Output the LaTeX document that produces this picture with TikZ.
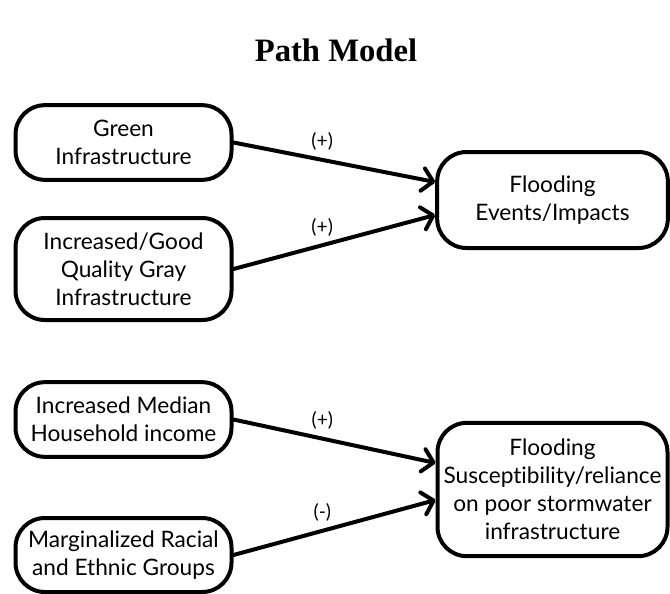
\documentclass[tikz,border=0pt]{standalone}
\usepackage{fontspec}
\setmainfont{Lato}[Ligatures=NoCommon]
\newfontfamily\titlefont{Liberation Serif}
\usetikzlibrary{arrows.meta}

\tikzset{
	box/.style={draw, line width=3pt, rounded corners=22pt, align=center, inner sep=2pt,
		minimum width=162pt, minimum height=#1, font=\fontsize{17}{21}\selectfont},
	link/.style={-{Straight Barb[length=8pt,width=17pt,line cap=round,line join=round]},
		line width=3pt, line cap=round},
	sign/.style={above=2pt, font=\fontsize{14.5}{16}\selectfont},
}

\begin{document}
\begin{tikzpicture}[x=0.75pt, y=-0.75pt]
	\useasboundingbox (0,0) rectangle (670,593);
	
	\node[font=\titlefont\bfseries\fontsize{24.5}{28}\selectfont] (title) at (336,50) {Path Model};
	
	\node[box=56pt] (green) at (123.5,142.5) {Green\\Infrastructure};
	\node[box=76.5pt] (gray) at (123.5,269) {Increased/Good\\Quality Gray\\Infrastructure};
	\node[box=72pt, minimum width=173pt] (events) at (552.5,200) {Flooding\\Events/Impacts};
	
	\node[box=56pt] (income) at (123.5,419.5) {Increased Median\\Household income};
	\node[box=55.5pt] (groups) at (123.5,555) {Marginalized Racial\\and Ethnic Groups};
	\node[box=100pt, minimum width=172.5pt] (suscept) at (552.5,489.5) {Flooding\\Susceptibility/reliance\\on poor stormwater\\infrastructure};
	
	\draw[link] (green.east) -- node[sign, pos=0.44] {(+)} ([yshift=13.5pt]events.west);
	\draw[link] (gray.east) -- node[sign, pos=0.44] {(+)} ([yshift=-11.25pt]events.west);
	
	\draw[link] (income.east) -- node[sign, pos=0.44] {(+)} ([yshift=19.9pt]suscept.west);
	\draw[link] (groups.east) -- node[sign, pos=0.44] {(-)} ([yshift=-7.9pt]suscept.west);
	
\end{tikzpicture}
\end{document}
